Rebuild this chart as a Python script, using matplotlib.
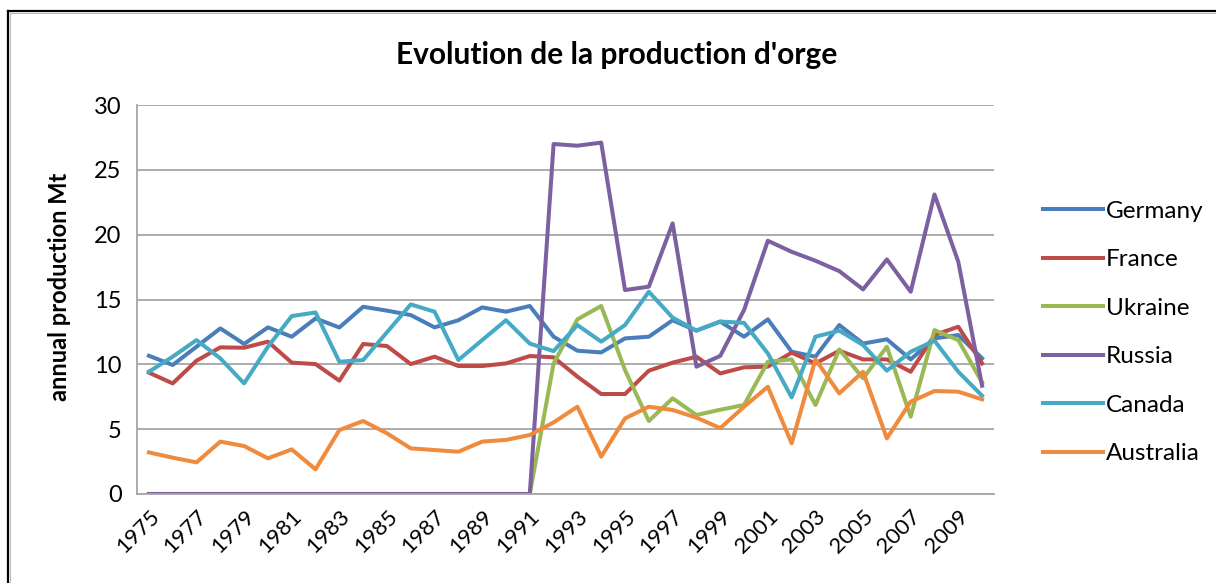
import matplotlib
matplotlib.use("Agg")
import matplotlib.pyplot as plt
from matplotlib.lines import Line2D
import numpy as np

years = list(range(1975, 2011))

germany = [10.66, 9.95, 11.36, 12.77, 11.57, 12.85, 12.13, 13.54, 12.84, 14.44, 14.14, 13.8,
           12.85, 13.4, 14.39, 14.06, 14.5, 12.13, 11.05, 10.92, 12.0, 12.13, 13.4, 12.6, 13.3,
           12.13, 13.47, 10.97, 10.59, 13.03, 11.6, 11.93, 10.38, 12.0, 12.26, 10.46]
france = [9.36, 8.53, 10.28, 11.31, 11.28, 11.75, 10.13, 10.02, 8.74, 11.57, 11.41, 10.02,
          10.59, 9.87, 9.87, 10.07, 10.64, 10.54, 9.05, 7.71, 7.71, 9.51, 10.13, 10.59, 9.3,
          9.77, 9.82, 10.9, 10.07, 11.05, 10.38, 10.38, 9.43, 12.26, 12.9, 10.07]
ukraine = [0] * 17 + [10.07, 13.47, 14.5, 9.56, 5.63, 7.38, 6.09, 6.5,
                      6.86, 10.2, 10.38, 6.86, 11.15, 8.92, 11.36, 5.96, 12.64, 11.87, 8.6]
russia = [0] * 17 + [26.99, 26.86, 27.1, 15.73, 15.99, 20.87, 9.82, 10.65,
                     14.19, 19.53, 18.68, 17.99, 17.19, 15.78, 18.09, 15.6, 23.1, 17.91, 8.35]
canada = [9.43, 10.59, 11.87, 10.46, 8.53, 11.36, 13.72, 14.0, 10.2, 10.33, 12.47, 14.62,
          14.06, 10.33, 11.87, 13.4, 11.6, 11.02, 13.03, 11.75, 13.03, 15.6, 13.6, 12.6, 13.3,
          13.2, 10.84, 7.45, 12.13, 12.6, 11.49, 9.51, 10.97, 11.82, 9.43, 7.58]
australia = [3.21, 2.8, 2.44, 4.04, 3.7, 2.75, 3.44, 1.9, 4.93, 5.63, 4.68, 3.52,
             3.39, 3.26, 4.04, 4.17, 4.55, 5.52, 6.73, 2.88, 5.83, 6.73, 6.48, 5.89, 5.08,
             6.73, 8.27, 3.91, 10.38, 7.76, 9.43, 4.29, 7.12, 7.94, 7.89, 7.3]

series = [("Germany", germany, "#4A7EBB"),
          ("France", france, "#BE4B48"),
          ("Ukraine", ukraine, "#98B954"),
          ("Russia", russia, "#7D60A0"),
          ("Canada", canada, "#46AAC5"),
          ("Australia", australia, "#F08A3C")]

plt.rcParams['font.family'] = ['Lato', 'DejaVu Sans']

fig = plt.figure(figsize=(12.16, 5.83), dpi=100)
ax = fig.add_axes([137 / 1216, 1 - 494 / 583, (994 - 137) / 1216, (494 - 105) / 583])

x = np.arange(len(years))
for name, vals, col in series:
    ax.plot(x, vals, color=col, lw=2.9, label=name, solid_joinstyle='round')

ax.set_xlim(-0.5, len(years) - 0.5)
ax.set_ylim(0, 30)
ax.set_yticks(range(0, 31, 5))
ax.set_xticks(x[::2])
ax.set_xticklabels([str(y) for y in years[::2]], rotation=45, ha='right',
                   rotation_mode='anchor', fontsize=16)
ax.tick_params(axis='y', labelsize=17, length=0, pad=11)
ax.tick_params(axis='x', length=0, pad=9)
ax.yaxis.grid(True, color='#A6A6A6', lw=1.3)
ax.set_axisbelow(True)
for s in ['top', 'right']:
    ax.spines[s].set_visible(False)
for s in ['left', 'bottom']:
    ax.spines[s].set_color('#A6A6A6')
    ax.spines[s].set_linewidth(1.3)

ax.set_ylabel("annual production Mt", fontsize=17, fontweight='bold')
ax.yaxis.set_label_coords((71 - 137) / 857, (494 - 286.5) / 389)
fig.text(617 / 1216, 1 - 55 / 583, "Evolution de la production d'orge",
         ha='center', va='center', fontsize=21.5, fontweight='bold')

fig.legend(loc='center left', bbox_to_anchor=(1043 / 1216, 1 - 332.5 / 583),
           frameon=False, fontsize=17.5, handlelength=2.45, handletextpad=0.15,
           labelspacing=1.13, borderpad=0, borderaxespad=0)

# frame of the chart area (top and left edges only are visible)
fig.add_artist(Line2D([8 / 1216, 1], [1 - 11 / 583] * 2, color='black', lw=1.6))
fig.add_artist(Line2D([8 / 1216] * 2, [0, 1 - 11 / 583], color='black', lw=1.6))
fig.add_artist(Line2D([10 / 1216, 1], [1 - 13 / 583] * 2, color='#BBBBBB', lw=0.8))
fig.add_artist(Line2D([10 / 1216] * 2, [0, 1 - 13 / 583], color='#BBBBBB', lw=0.8))

fig.savefig("out.png", dpi=100)
